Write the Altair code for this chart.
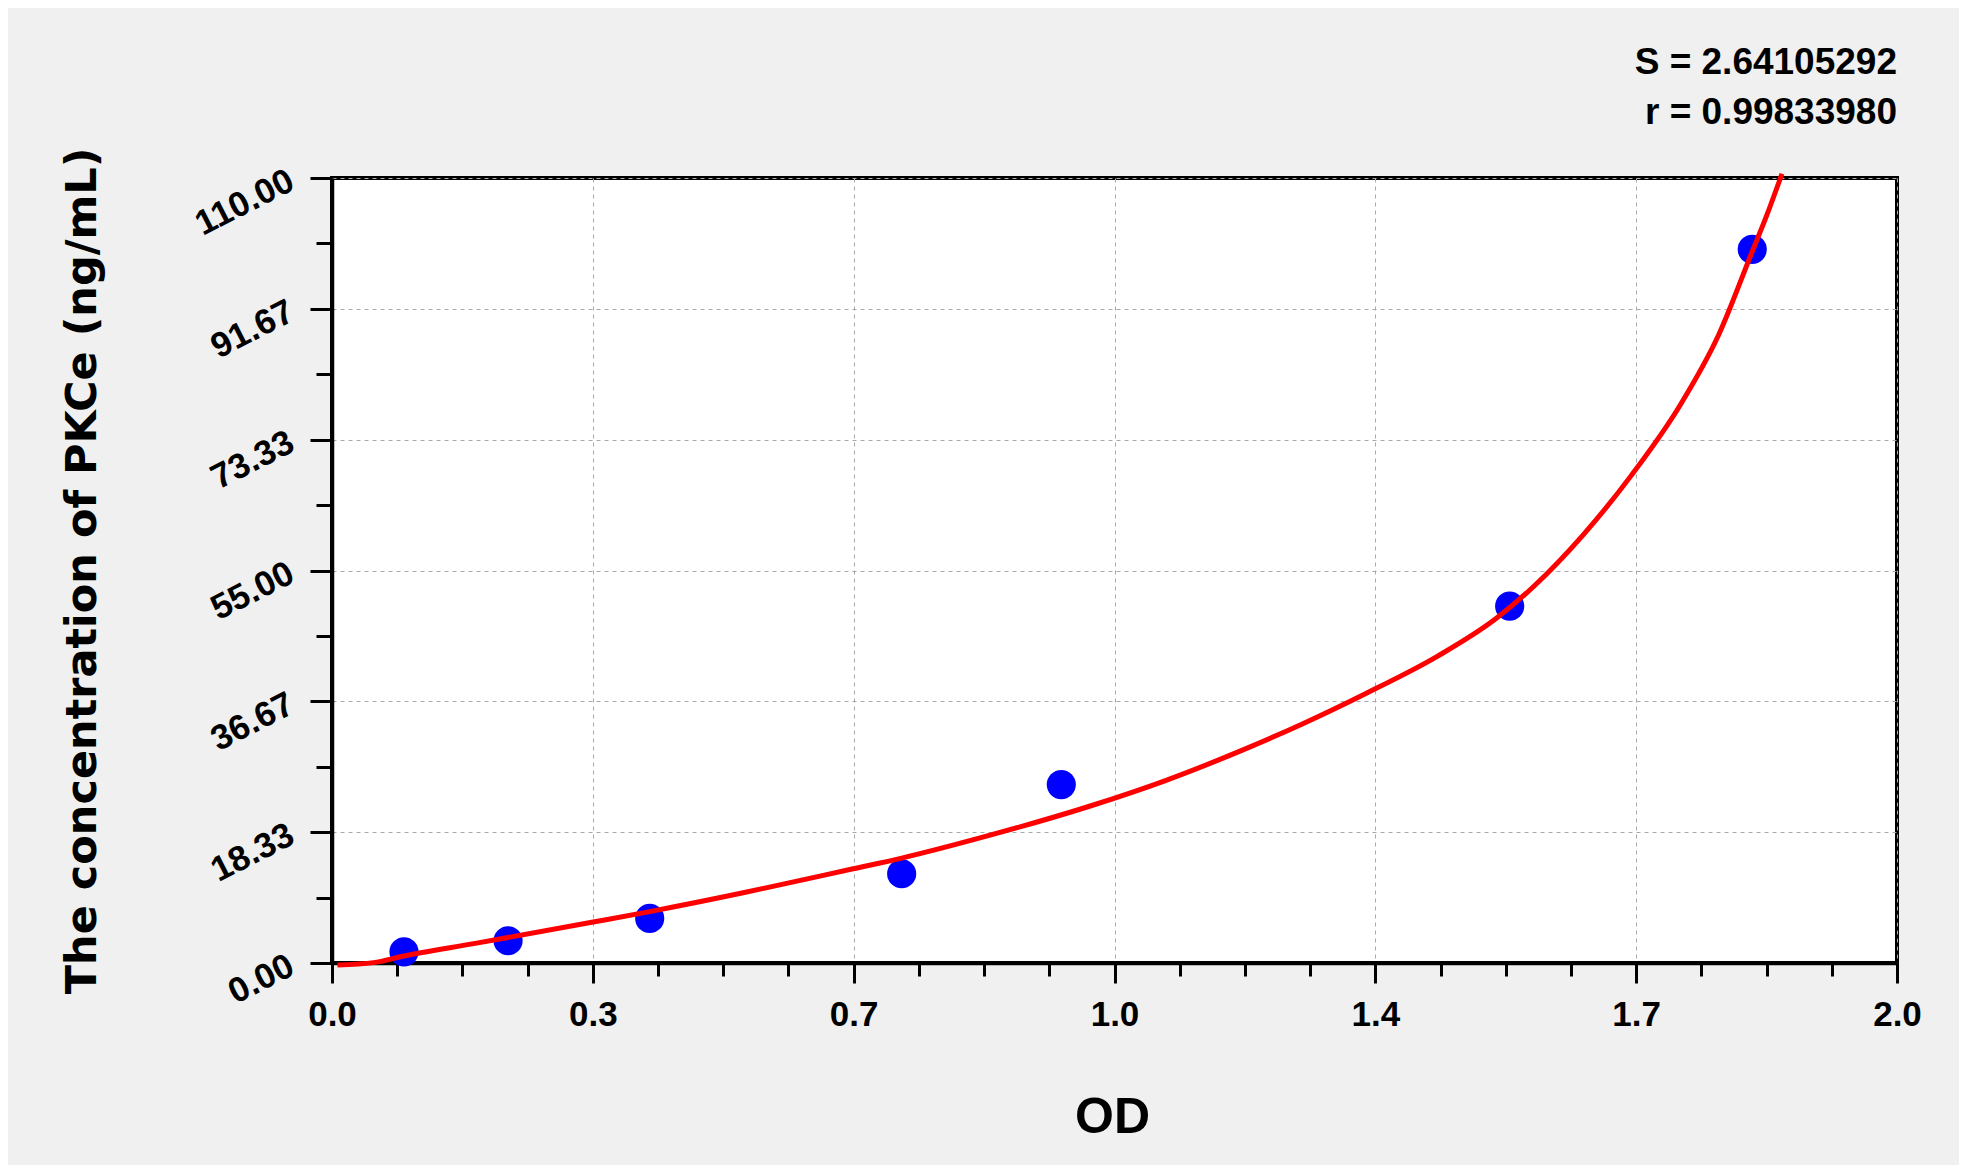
import altair as alt
import pandas as pd

# ---- data ----
std_od = [0.092, 0.225, 0.406, 0.728, 0.932, 1.505, 1.815]
std_conc = [1.56, 3.12, 6.25, 12.5, 25.0, 50.0, 100.0]

curve_od = [0.007, 0.053, 0.090, 0.183, 0.332, 0.406, 0.524, 0.666, 0.728, 0.834,
            0.969, 1.066, 1.165, 1.240, 1.320, 1.413, 1.488, 1.537, 1.599, 1.661,
            1.723, 1.772, 1.815, 1.834, 1.853]
curve_conc = [-0.28, 0.05, 0.95, 2.75, 5.7, 7.2, 9.8, 13.2, 14.7, 17.7,
              22.0, 25.6, 29.9, 33.5, 37.7, 43.0, 48.3, 52.9, 60.0, 68.4,
              78.2, 88.0, 99.7, 104.9, 110.6]

x_tick_labels = ["0.0", "0.3", "0.7", "1.0", "1.4", "1.7", "2.0"]
y_tick_labels = ["0.00", "18.33", "36.67", "55.00", "73.33", "91.67", "110.00"]
stats_text = ["S = 2.64105292", "r = 0.99833980"]

x_max = 2.0
y_max = 110.0
x_values = [i * x_max / 24 for i in range(25)]
y_values = [i * y_max / 24 for i in range(25)]

pts = pd.DataFrame({"od": std_od, "conc": std_conc})
crv = pd.DataFrame({"od": curve_od, "conc": curve_conc})

x_major = "abs(datum.value*6/%g - round(datum.value*6/%g)) < 0.001" % (x_max, x_max)
y_major = "abs(datum.value*6/%g - round(datum.value*6/%g)) < 0.001" % (y_max, y_max)

x_lab_arr = "[" + ",".join("'%s'" % s for s in x_tick_labels) + "]"
y_lab_arr = "[" + ",".join("'%s'" % s for s in y_tick_labels) + "]"

LABEL_FONT = "Liberation Sans, Arial, sans-serif"
TITLE_FONT = "DejaVu Sans, Verdana, sans-serif"

x_axis = alt.Axis(
    values=x_values,
    labelExpr="(%s) ? %s[round(datum.value*6/%g)] : ''" % (x_major, x_lab_arr, x_max),
    tickSize={"condition": {"test": x_major, "value": 20}, "value": 13},
    gridOpacity={"condition": {"test": x_major, "value": 1}, "value": 0},
    tickWidth=3, tickColor="black",
    domainColor="black", domainWidth=3.5,
    grid=True, gridColor="#a8a8a8", gridDash=[4, 4], gridWidth=1,
    labelFont=LABEL_FONT, labelFontSize=35, labelFontWeight="bold", labelColor="black",
    labelPadding=14, labelBaseline="top", labelFlush=False, labelOverlap=False,
    title="OD", titleFont=LABEL_FONT, titleFontSize=50, titleFontWeight="bold",
    titleColor="black", titleX=780, titleY=169, titleAlign="center",
    titleBaseline="alphabetic",
)

y_axis = alt.Axis(
    values=y_values,
    labelExpr="(%s) ? %s[round(datum.value*6/%g)] : ''" % (y_major, y_lab_arr, y_max),
    tickSize={"condition": {"test": y_major, "value": 22}, "value": 16},
    gridOpacity={"condition": {"test": y_major, "value": 1}, "value": 0},
    tickWidth=3, tickColor="black",
    domainColor="black", domainWidth=3.5,
    grid=True, gridColor="#a8a8a8", gridDash=[4, 4], gridWidth=1,
    labelFont=LABEL_FONT, labelFontSize=35, labelFontWeight="bold", labelColor="black",
    labelAngle=333, labelAlign="right", labelBaseline="middle", labelPadding=19,
    labelFlush=False, labelOverlap=False,
    title="The concentration of PKCe (ng/mL)", titleFont=TITLE_FONT, titleFontSize=43,
    titleFontWeight="bold", titleColor="black", titleAngle=270,
    titleX=-237, titleY=392.5, titleAlign="center", titleBaseline="alphabetic",
)

x_scale = alt.Scale(domain=[0, x_max], nice=False, zero=False)
y_scale = alt.Scale(domain=[0, y_max], nice=False, zero=False)

points = alt.Chart(pts).mark_circle(size=850, color="#0000ff", opacity=1).encode(
    x=alt.X("od:Q", scale=x_scale, axis=x_axis),
    y=alt.Y("conc:Q", scale=y_scale, axis=y_axis),
)

line = alt.Chart(crv).mark_line(color="#ff0000", strokeWidth=5, interpolate="monotone", clip=False).encode(
    x=alt.X("od:Q", scale=x_scale),
    y=alt.Y("conc:Q", scale=y_scale),
    order=alt.Order("od:Q"),
)

chart = alt.layer(points, line).properties(
    width=1565,
    height=785,
    autosize="none",
    padding={"left": 324, "top": 170, "right": 62, "bottom": 202},
    background="#f0f0f0",
    title=alt.TitleParams(
        text=stats_text, anchor="end", frame="group", orient="top",
        font=LABEL_FONT, fontSize=37, fontWeight="bold", color="black",
        lineHeight=50, baseline="alphabetic", offset=-14,
    ),
).configure_view(stroke="black", strokeWidth=4, fill="white")

chart.save("out.html", embed_options={"renderer": "svg", "actions": False})
